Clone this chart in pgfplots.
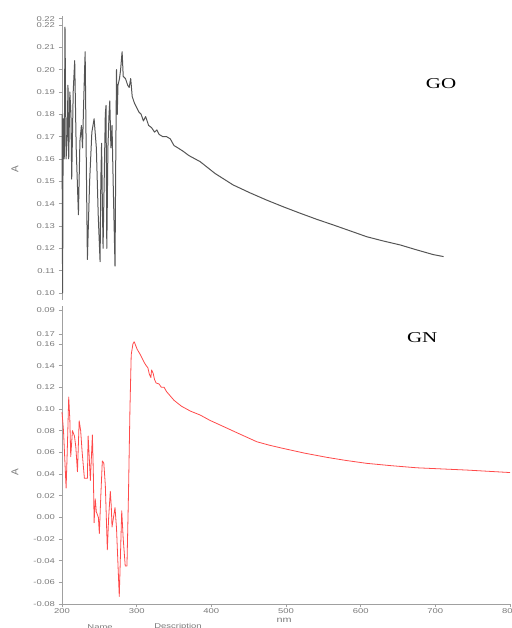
\documentclass[border=0pt]{standalone}
\usepackage{fontspec}
\setmainfont{Liberation Sans}
\newfontfamily\tickfont{Liberation Sans}[FakeStretch=1.35]
\newfontfamily\labfont{Liberation Serif}[FakeStretch=1.4]
\usepackage{pgfplots}
\pgfplotsset{compat=1.18}
\definecolor{axgray}{HTML}{A0A0A0}
\definecolor{txgray}{HTML}{7A7A7A}
\definecolor{gocol}{HTML}{555555}
\definecolor{gncol}{HTML}{FF4A4A}
\pgfplotsset{
  mystyle/.style={
    scale only axis,
    width=448pt,
    xmin=200, xmax=800,
    axis line style={axgray, line width=0.9pt},
    tick style={axgray, line width=0.7pt},
    tick align=outside,
    major tick length=3.5pt,
    /pgf/number format/assume math mode=true,
    ticklabel style={font=\tickfont\fontsize{7}{8}\selectfont, text=txgray},
    yticklabel style={/pgf/number format/.cd, fixed, fixed zerofill, precision=2},
    clip=false,
  }
}
\begin{document}
\begin{tikzpicture}
\useasboundingbox (0,0) rectangle (511pt,628pt);
% ---------- top panel (GO)
\begin{axis}[mystyle,
  at={(62pt,328.3pt)}, anchor=south west,
  height=283.7pt,
  ymin=0.097, ymax=0.224,
  axis x line=none, axis y line*=left,
  ytick={0.10,0.11,0.12,0.13,0.14,0.15,0.16,0.17,0.18,0.19,0.20,0.21,0.22},
  extra y ticks={0.2228}, extra y tick labels={0.22},
]
\addplot[gocol, line width=1pt, line join=round] coordinates {
(200,0.180) (200.8,0.100) (201.6,0.178) (203,0.160) (204,0.219) (205.5,0.160)
(207,0.170) (208,0.193) (209,0.160) (210.5,0.190) (212,0.180) (213,0.151)
(215,0.190) (217,0.204) (219,0.165) (222,0.135) (224,0.168) (226,0.175)
(227.5,0.165) (229,0.185) (231,0.208) (232.5,0.160) (234,0.115) (237,0.150)
(240,0.172) (243,0.178) (246,0.165) (248.5,0.135) (251,0.114) (252,0.150)
(253,0.167) (254,0.142) (255,0.120) (256.5,0.150) (258,0.180) (259,0.184)
(260,0.120) (261.5,0.165) (263,0.180) (264,0.186) (265.5,0.165) (267,0.175)
(268.5,0.150) (271,0.112) (272,0.160) (273,0.200) (274,0.180) (275,0.193)
(277,0.196) (278.5,0.200) (280.5,0.208) (282,0.197) (285,0.196) (288,0.193)
(290,0.192) (292,0.196) (294,0.188) (297,0.185) (300,0.183) (303,0.181)
(306,0.180) (309,0.177) (312,0.179) (316,0.175) (320,0.174) (324,0.172)
(327,0.173) (330,0.171) (335,0.170) (340,0.170) (345,0.169) (350,0.166)
(355,0.165) (362,0.1635) (370,0.1615) (385,0.1588) (405,0.1535) (429,0.1484)
(452,0.1448) (474,0.1416) (497,0.1385) (519,0.1357) (541,0.1330) (563,0.1305)
(586,0.1278) (608,0.1252) (630,0.1233) (653,0.1215) (675,0.1193) (697,0.1172)
(711,0.1163)
};
\node[rotate=90, text=txgray, font=\fontsize{10}{11}\selectfont] at (rel axis cs:-0.105,0.461) {A};
\node[font=\labfont\fontsize{15}{16}\selectfont] at (rel axis cs:0.846,0.760) {GO};
\end{axis}
% ---------- bottom panel (GN)
\begin{axis}[mystyle,
  at={(62pt,24pt)}, anchor=south west,
  height=298pt,
  ymin=-0.08, ymax=0.195,
  axis lines*=left,
  xtick={200,300,400,500,600,700,800},
  xticklabel style={inner sep=1pt, /pgf/number format/.cd, fixed, precision=0, 1000 sep={}},
  ytick={-0.08,-0.06,-0.04,-0.02,0,0.02,0.04,0.06,0.08,0.10,0.12,0.14,0.16},
  extra y ticks={0.169,0.191}, extra y tick labels={0.17,0.09},
]
\addplot[gncol, line width=0.8pt, line join=round] coordinates {
(200,0.097) (202,0.080) (205.5,0.027) (207,0.060) (209,0.111) (210.5,0.090)
(211.7,0.056) (214,0.080) (216.7,0.075) (218.5,0.065) (220.7,0.042) (223,0.089)
(225,0.080) (227,0.060) (230,0.036) (234,0.036) (235,0.075) (236.5,0.055)
(238,0.034) (240.7,0.076) (242,0.040) (243,-0.005) (244.5,0.017) (246,0.005)
(248.7,0.000) (250,-0.015) (252,0.020) (254,0.052) (256,0.050) (258,0.030)
(260.7,-0.030) (262.5,0.000) (264.7,0.024) (266,0.010) (267,-0.009) (269,0.000)
(271,0.009) (273,-0.010) (276.7,-0.073) (278.5,-0.030) (280,0.006) (282,-0.020)
(284.7,-0.045) (287,-0.045) (289,0.020) (291,0.100) (292.7,0.150) (295,0.160)
(296.7,0.162) (300.7,0.155) (305,0.150) (310,0.143) (312.7,0.140) (315,0.138)
(317,0.132) (319,0.129) (320,0.136) (322,0.133) (324,0.127) (326,0.124)
(330,0.123) (333,0.120) (336.7,0.120) (340,0.116) (350,0.108) (360,0.1025)
(372,0.0980) (385,0.0944) (398,0.0895) (412,0.0851) (436,0.0775) (461,0.0697)
(478,0.0665) (496,0.0636) (525,0.0592) (555,0.0553) (580,0.0525) (608,0.0498)
(640,0.0477) (675,0.0457) (710,0.0446) (742,0.0436) (770,0.0425) (800,0.0413)
};
\node[rotate=90, text=txgray, font=\fontsize{10}{11}\selectfont] at (rel axis cs:-0.105,0.443) {A};
\node[font=\labfont\fontsize{15}{16}\selectfont] at (rel axis cs:0.804,0.893) {GN};
\node[text=txgray, font=\tickfont\fontsize{8}{9}\selectfont, inner sep=0.5pt] at (rel axis cs:0.496,-0.056) {nm};
\node[text=txgray, font=\tickfont\fontsize{7}{8}\selectfont] at (rel axis cs:0.085,-0.077) {Name};
\node[text=txgray, font=\tickfont\fontsize{7}{8}\selectfont] at (rel axis cs:0.259,-0.077) {Description};
\end{axis}
\end{tikzpicture}
\end{document}
